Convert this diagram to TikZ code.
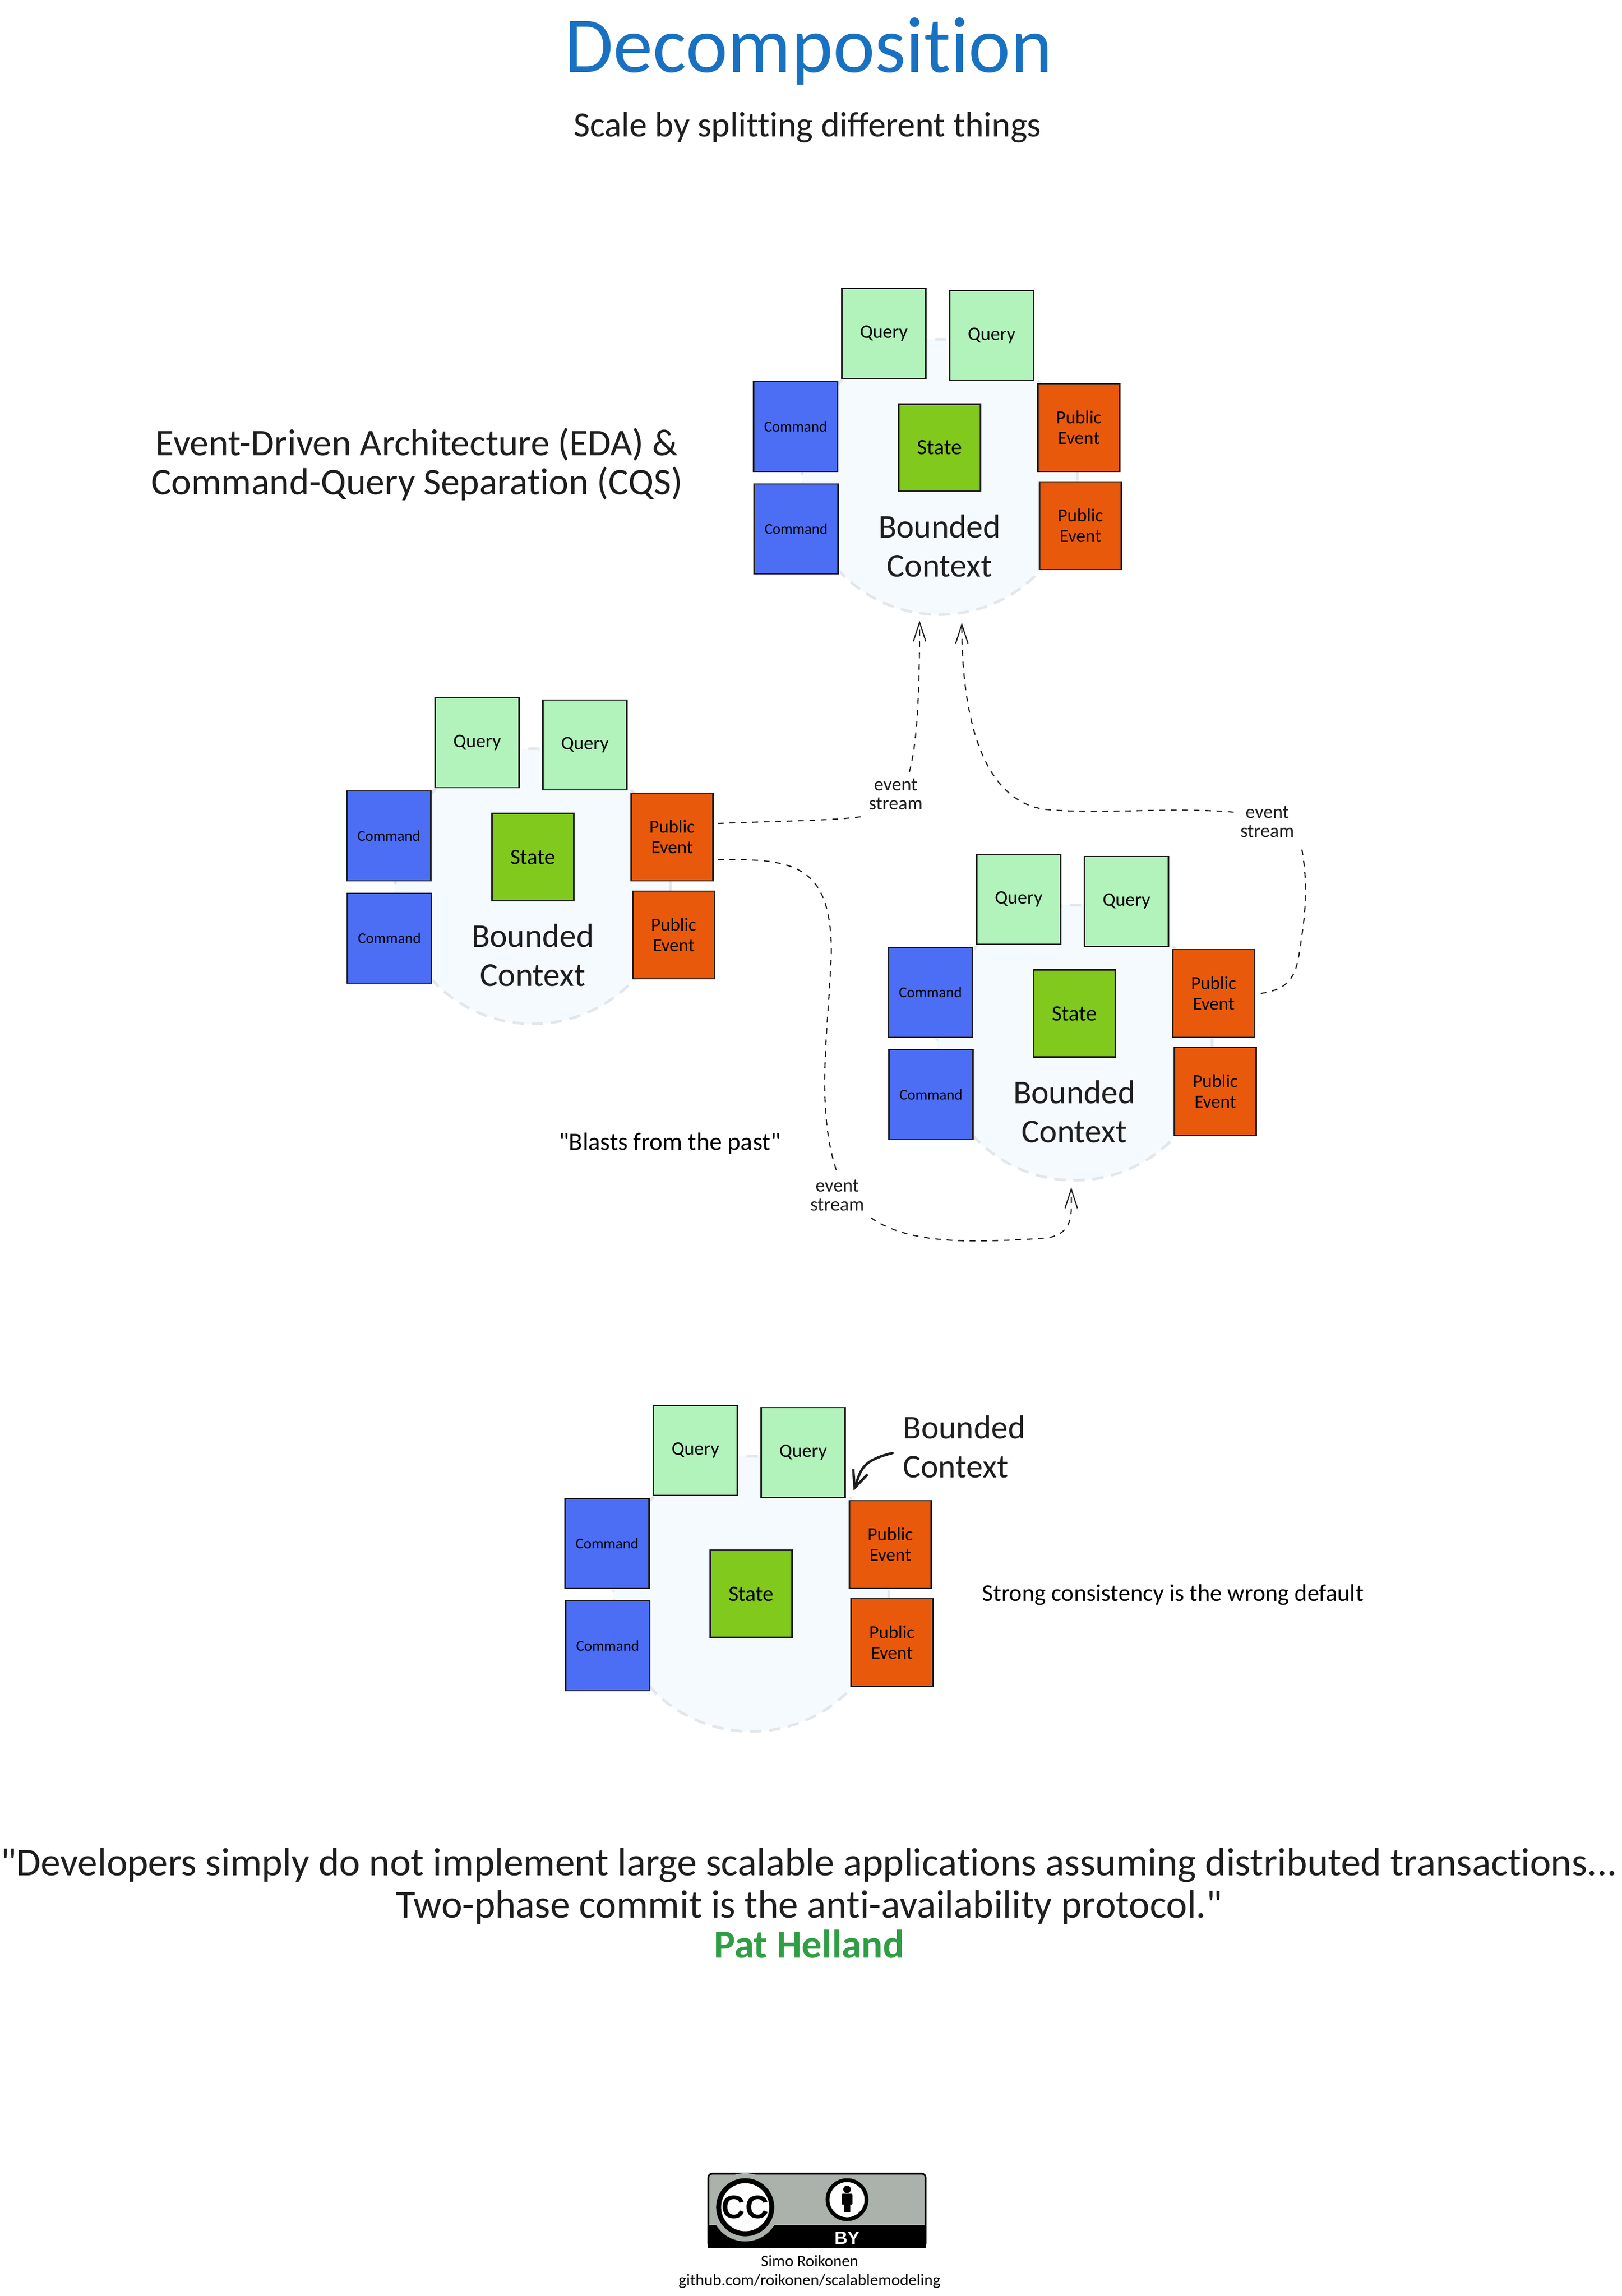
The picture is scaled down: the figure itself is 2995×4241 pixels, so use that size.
\documentclass[tikz,border=0pt]{standalone}
\usepackage{fontspec}
\usetikzlibrary{arrows.meta}
\setmainfont[Ligatures={TeXOff,NoCommon}]{Carlito}
\newfontfamily\ccfont{Liberation Sans}
\definecolor{queryfill}{HTML}{B2F2BB}
\definecolor{commandfill}{HTML}{4C6EF5}
\definecolor{statefill}{HTML}{82C91E}
\definecolor{eventfill}{HTML}{E8590C}
\definecolor{contextfill}{HTML}{F5FAFF}
\definecolor{contextline}{HTML}{E4E7EA}
\definecolor{inkcol}{HTML}{1E1E1E}
\definecolor{titlecol}{HTML}{1971C2}
\definecolor{quotecol}{HTML}{2F9E44}
\definecolor{badgecol}{HTML}{AAB2AB}
\begin{document}
\begin{tikzpicture}[x=0.01cm, y=-0.01cm, text=inkcol]
	\tikzstyle{box}      = [draw=inkcol, line width=0.8pt, minimum width=1.55cm, minimum height=1.66cm, inner sep=0pt, align=center, text=black]
	\tikzstyle{query}    = [box, fill=queryfill, font=\fontsize{10}{11}\selectfont]
	\tikzstyle{command}  = [box, fill=commandfill, font=\fontsize{7.9}{10}\selectfont]
	\tikzstyle{state}    = [box, fill=statefill, minimum width=1.51cm, minimum height=1.61cm, font=\fontsize{11.5}{12}\selectfont]
	\tikzstyle{event}    = [box, fill=eventfill, minimum width=1.51cm, minimum height=1.62cm, font=\fontsize{9.7}{10.7}\selectfont]
	\tikzstyle{context}  = [circle, minimum size=5.08cm, inner sep=0pt, fill=contextfill, draw=contextline, line width=1.4pt, dash pattern=on 6pt off 4pt]
	\tikzstyle{bigtext}  = [align=center, font=\fontsize{17.5}{20.5}\selectfont]
	\tikzstyle{note}     = [align=center, font=\fontsize{19.8}{20.5}\selectfont]
	\tikzstyle{small}    = [align=center, font=\fontsize{10}{10}\selectfont]
	\tikzstyle{stream}   = [draw=inkcol, line width=0.6pt, dashed, -{Straight Barb[length=10pt, width=6.5pt]}]
	\tikzstyle{streamin} = [draw=inkcol, line width=0.6pt, dashed]

	\useasboundingbox (0,0) rectangle (2995,4241);

	\node[font=\fontsize{41.7}{42}\selectfont, text=titlecol] (title) at (1493,95) {Decomposition};
	\node[font=\fontsize{18.6}{20}\selectfont] (subtitle) at (1491,235) {Scale by splitting different things};
	\node[note] (eda) at (770,858) {Event-Driven Architecture (EDA) \&\\Command-Query Separation (CQS)};

	\foreach \name/\x/\y/\sy in {top/0/0/827, left/-751/756/827, right/249/1045/827, low/-348/2063/881} {
		\begin{scope}[shift={(\x,\y)}]
			\node[context] (\name-ctx) at (1735,881) {};
			\node[query] (\name-q1) at (1632,616) {Query};
			\node[query] (\name-q2) at (1831,620) {Query};
			\node[command] (\name-c1) at (1469,788) {Command};
			\node[command] (\name-c2) at (1470,977) {Command};
			\node[state] (\name-s) at (1735,\sy) {State};
			\node[event] (\name-e1) at (1992,790) {Public\\Event};
			\node[event] (\name-e2) at (1995,971) {Public\\Event};
		\end{scope}
	}

	\foreach \name in {top, left, right}
		\node[bigtext] at ([yshift=-1.81cm]\name-s.center) {Bounded\\Context};

	\node[small] (lab1) at (1654,1467) {event\\stream};
	\node[small] (lab2) at (2340,1518) {event\\stream};
	\node[small] (lab3) at (1546,2208) {event\\stream};
	\coordinate (tip1) at (1698,1146);
	\coordinate (tip2) at (1776,1150);
	\coordinate (tip3) at (1978,2193);
	\coordinate (out1) at ([xshift=0.08cm, yshift=0.25cm]left-e1.east);
	\coordinate (out2) at ([xshift=0.1cm]right-e1.east);
	\coordinate (out3) at ([xshift=0.08cm, yshift=-0.42cm]left-e1.east);

	\draw[streamin] (out1) .. controls (1450,1516) and (1540,1516) .. (lab1.south west);
	\draw[stream] ([xshift=0.25cm]lab1.north) .. controls (1695,1370) and (1698,1260) .. (tip1);
	\draw[streamin] (out2) .. controls (2395,1825) and (2395,1790) .. (2405,1720) .. controls (2415,1650) and (2410,1600) .. (lab2.south east);
	\draw[stream] ([yshift=0.18cm]lab2.west) .. controls (2150,1490) and (2040,1505) .. (1930,1495) .. controls (1820,1480) and (1776,1340) .. (tip2);
	\draw[streamin] (out3) .. controls (1470,1585) and (1535,1600) .. (1535,1760) .. controls (1530,1900) and (1505,2050) .. (lab3.north);
	\draw[stream] (lab3.south east) .. controls (1680,2300) and (1800,2295) .. (1930,2287) .. controls (1985,2280) and (1978,2240) .. (tip3);

	\node[note, text=black, font=\fontsize{13.1}{14}\selectfont] (past) at (1237,2112) {"Blasts from the past"};
	\node[bigtext, align=left, anchor=west, inner sep=0pt] (lowlabel) at (1667,2672) {Bounded\\Context};
	\draw[draw=inkcol, line width=1.3pt, line cap=round, -{Straight Barb[length=9pt, width=8pt]}] ([xshift=-0.19cm, yshift=-0.12cm]lowlabel.west) .. controls (1590,2698) and (1590,2715) .. ([xshift=0.09cm, yshift=0.17cm]low-e1.north west);
	\node[note, text=black, font=\fontsize{12.6}{14}\selectfont] (strong) at (2166,2946) {Strong consistency is the wrong default};

	\node[align=center, font=\fontsize{20.8}{22}\selectfont] (quote) at (1494,3484) {"Developers simply do not implement large scalable applications assuming distributed transactions...\\Two-phase commit is the anti-availability protocol."};
	\node[font=\bfseries\fontsize{21}{22}\selectfont, text=quotecol] (author) at (1494,3591) {Pat Helland};

	\draw[draw=black, fill=badgecol, line width=0.9pt, rounded corners=2pt] (1308,4015) rectangle (1709,4151);
	\fill[black] (1307,4110) rectangle (1710,4152);
	\fill[badgecol] (1376,4077) circle [radius=0.63cm];
	\node[circle, draw=black, fill=white, line width=2.6pt, minimum size=0.98cm, inner sep=0pt, font=\ccfont\bfseries\fontsize{17}{17}\selectfont, text=black] (cc) at (1376,4077) {CC};
	\node[circle, draw=black, fill=white, line width=2pt, minimum size=0.72cm, inner sep=0pt] (by) at (1564,4063) {};
	\fill[black] (1564,4044) circle [radius=0.07cm];
	\fill[black, rounded corners=0.5pt] (1554,4052) rectangle (1574,4072);
	\fill[black] (1558,4072) rectangle (1570,4086);
	\node[font=\ccfont\bfseries\fontsize{9.5}{10}\selectfont, text=white] (bylabel) at (1564,4134) {BY};
	\node[font=\fontsize{8.5}{9}\selectfont, text=black] (simo) at (1495,4176) {Simo Roikonen};
	\node[font=\fontsize{8.6}{10}\selectfont, text=black] (github) at (1495,4214) {github.com/roikonen/scalablemodeling};
\end{tikzpicture}
\end{document}
